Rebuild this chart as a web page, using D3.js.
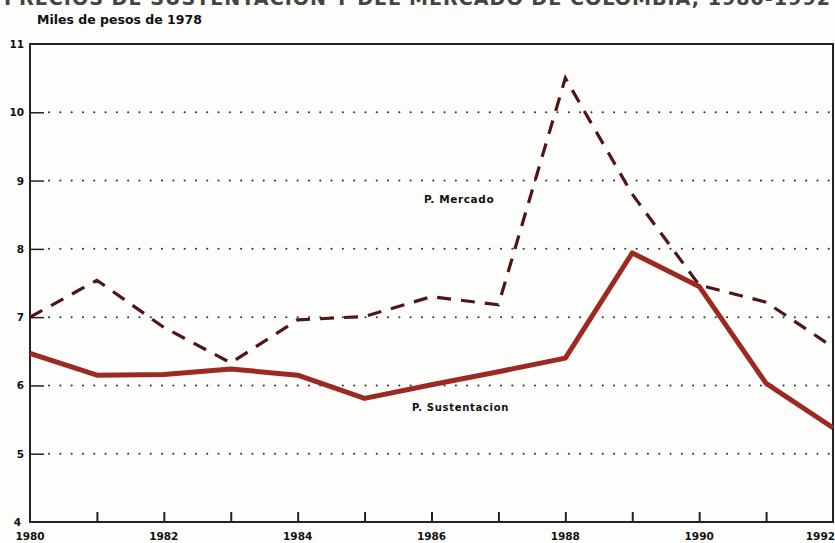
<!DOCTYPE html>
<html><head><meta charset="utf-8">
<script src="https://cdn.jsdelivr.net/npm/d3@7"></script>
<style>
body{margin:0;background:#fdfdfb;}
svg{display:block;}
text{font-family:"DejaVu Sans","Liberation Sans",Arial,sans-serif;font-weight:bold;fill:#111;}
</style></head>
<body>
<script>
const years = [1980,1981,1982,1983,1984,1985,1986,1987,1988,1989,1990,1991,1992];
const sustentacion = [6.47,6.15,6.16,6.24,6.15,5.81,6.01,6.20,6.40,7.94,7.45,6.03,5.38];
const mercado = [7.00,7.54,6.85,6.33,6.96,7.01,7.30,7.18,10.50,8.80,7.47,7.22,6.56];
const yTicks = [4,5,6,7,8,9,10,11];
const gridLevels = [5,6,7,8,9,10];
const xLabelYears = [1980,1982,1984,1986,1988,1990,1992];
const titleText = "PRECIOS DE SUSTENTACION Y DEL MERCADO DE COLOMBIA, 1980-1992";
const unitText = "Miles de pesos de 1978";

const W = 835, H = 543;
const m = {left:30, right:2, top:44, bottom:21};
const svg = d3.select("body").append("svg").attr("width",W).attr("height",H);

const x = d3.scaleLinear().domain([1980,1992]).range([m.left, W-m.right]);
const y = d3.scaleLinear().domain([4,11]).range([H-m.bottom, m.top]);

// title (clipped at the top edge, as in the scan)
svg.append("text").attr("x",W-4).attr("y",5).attr("text-anchor","end")
  .style("font-size","19px").style("fill","#444").style("letter-spacing","1px")
  .attr("textLength",W-8).attr("lengthAdjust","spacingAndGlyphs").text(titleText);
svg.append("text").attr("x",37).attr("y",24).style("font-size","12.5px").text(unitText);

// grid dotted
svg.append("g").selectAll("line").data(gridLevels).join("line")
  .attr("x1",m.left+19).attr("x2",W-m.right-4)
  .attr("y1",d=>y(d)).attr("y2",d=>y(d))
  .attr("stroke","#333").attr("stroke-width",2).attr("stroke-linecap","round")
  .attr("stroke-dasharray","0.1 11.2");

// y axis
const yAxis = d3.axisRight(y).tickValues(gridLevels).tickSize(14).tickFormat("");
const gy = svg.append("g").attr("transform",`translate(${m.left},0)`).call(yAxis);
gy.select(".domain").remove();
gy.selectAll("line").attr("stroke","#222").attr("stroke-width",1.5);
svg.append("g").selectAll("text").data(yTicks).join("text")
  .attr("x",d=>d===4?21:24).attr("y",d=>y(d)+4).attr("text-anchor","end")
  .style("font-size","10.5px").text(d=>d);

// x axis ticks upward
const xAxis = d3.axisTop(x).tickValues(years.slice(1,-1)).tickSize(10).tickFormat("");
const gx = svg.append("g").attr("transform",`translate(0,${H-m.bottom})`).call(xAxis);
gx.select(".domain").remove();
gx.selectAll("line").attr("stroke","#222").attr("stroke-width",2);
svg.append("g").selectAll("text").data(xLabelYears).join("text")
  .attr("x",d=>d===1992?W:x(d)).attr("y",H-3)
  .attr("text-anchor",d=>d===1992?"end":"middle")
  .style("font-size","10.5px").text(d=>d);

// frame
svg.append("rect").attr("x",m.left).attr("y",m.top)
  .attr("width",W-m.right-m.left).attr("height",H-m.bottom-m.top)
  .attr("fill","none").attr("stroke","#222").attr("stroke-width",2);

const line = d3.line().x((d,i)=>x(years[i])).y(d=>y(d));
svg.append("path").datum(mercado).attr("d",line).attr("fill","none")
  .attr("stroke","#4e1616").attr("stroke-width",3.2).attr("stroke-dasharray","14 10");
svg.append("path").datum(sustentacion).attr("d",line).attr("fill","none")
  .attr("stroke","#9c2a22").attr("stroke-width",5).attr("stroke-linejoin","round");

svg.append("text").attr("x",424).attr("y",203).style("font-size","10.5px").style("letter-spacing","0.6px").text("P. Mercado");
svg.append("text").attr("x",412).attr("y",411).style("font-size","10px").style("letter-spacing","0.7px").text("P.  Sustentacion");
</script>
</body></html>
